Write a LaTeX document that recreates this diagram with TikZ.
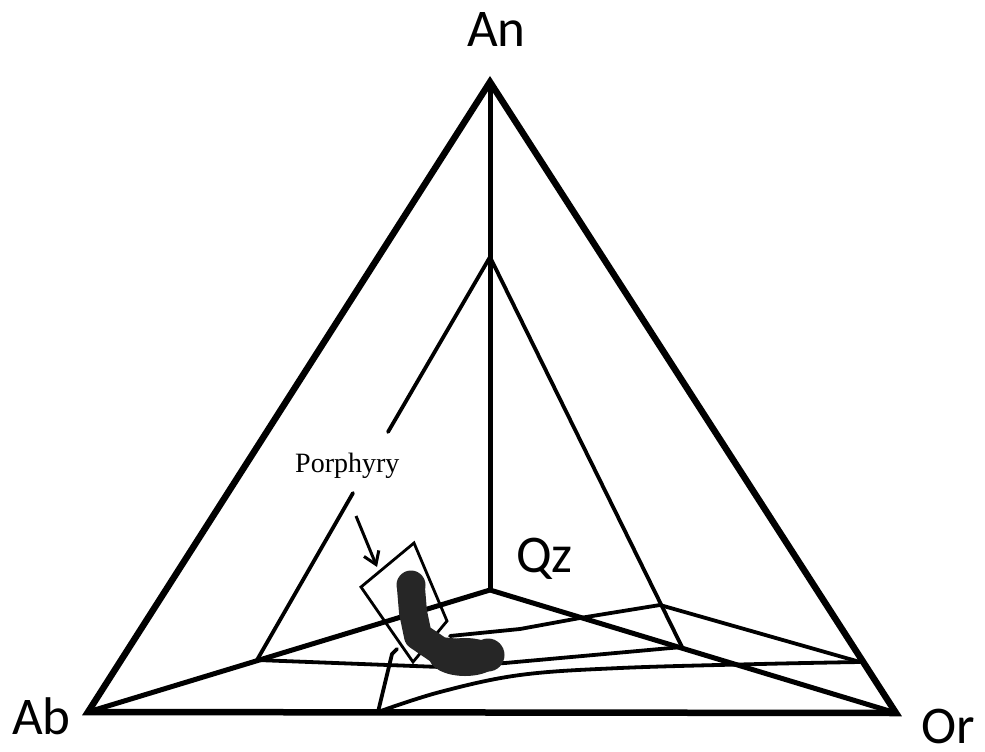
\documentclass[tikz,border=0pt]{standalone}
\usepackage{fontspec}
\newfontfamily\labfont{Carlito}
\newfontfamily\porfont{Liberation Serif}
\usetikzlibrary{arrows.meta}
\begin{document}
\begin{tikzpicture}[x=1pt,y=-1pt,
  outer/.style={line width=6.5pt,line join=miter},
  edge/.style={line width=5pt,line join=miter},
  thin/.style={line width=3.8pt,line join=round,line cap=round},
  boxline/.style={line width=2.8pt,line join=miter},
  vlabel/.style={anchor=base west,inner sep=0pt,font=\labfont\fontsize{53}{60}\selectfont},
  blob/.style={line width=28pt,line cap=round,line join=round,draw=black!85}]
\useasboundingbox (0,0) rectangle (985,752);
% vertices
\coordinate (An) at (490,82);
\coordinate (Ab) at (88,712);
\coordinate (Or) at (896,713);
\coordinate (Qz) at (490,590);
\coordinate (P) at (490,257);
\coordinate (L) at (257,660);
\coordinate (R) at (682,647);
\coordinate (E) at (860,662);
\coordinate (B) at (378,712);
% inner surfaces
\draw[thin] (P) -- (388,432);
\draw[thin] (353,493) -- (L);
\draw[thin] (P) -- (R);
\draw[thin] (L) -- (440,667) -- (505,663) -- (R);
\draw[thin] plot[smooth,tension=0.6] coordinates {(B) (440,692) (520,675) (620,668) (760,664) (E)};
\draw[thin] (450,636) -- (520,629) -- (580,618) -- (660,605) -- (E);
\draw[thin] (397,649) -- (392,654) -- (B);
% tetrahedron edges
\draw[edge] (An) -- (Qz);
\draw[edge] (Ab) -- (Qz) -- (Or);
\draw[outer] (Ab) -- (An) -- (Or) -- cycle;
% porphyry box
\draw[boxline] (361,587) -- (414,543) -- (447,621) -- (413,662) -- cycle;
% blob
\draw[blob] (411,588) -- (413,612) -- (418,636) -- (440,651) -- (470,654) -- (486,655);
\fill[black!85] (465,657) ellipse (36 and 19);
\fill[black!85] (488,655) circle (16.5);
\fill[black!85] (411,585) circle (14.5);
% arrow
\draw[line width=3pt,-{Straight Barb[length=12pt,width=16pt,line width=3pt]}] (356,516) -- (377,567);
% labels
\node[vlabel] (tAn) at (467,47) {An};
\node[vlabel] (tAb) at (12,734) {Ab};
\node[vlabel] (tOr) at (921,743) {Or};
\node[vlabel] (tQz) at (516,572) {Qz};
\node[anchor=base west,inner sep=0pt,font=\porfont\fontsize{28}{32}\selectfont] (tP) at (295,472) {Porphyry};
\end{tikzpicture}
\end{document}
